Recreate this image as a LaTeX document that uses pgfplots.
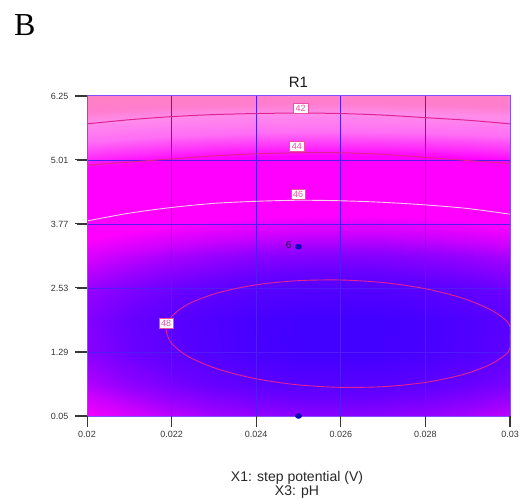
\documentclass[border=0pt]{standalone}
\usepackage{pgfplots}
\pgfplotsset{compat=1.18}
\usepackage{fontspec}
\setmainfont{Liberation Sans}
\newfontfamily\timesfont{Liberation Serif}
\definecolor{gridc}{RGB}{85,25,245}
\definecolor{framec}{RGB}{130,80,250}
\definecolor{tickc}{RGB}{55,55,55}
\definecolor{cpink}{RGB}{225,35,145}
\definecolor{cwhite}{RGB}{255,200,240}
\definecolor{lblc}{RGB}{235,80,165}
\definecolor{dotc}{RGB}{15,10,185}
\pgfplotsset{colormap={de}{[1pt]
 rgb255(0pt)=(255,130,195) rgb255(10pt)=(255,125,205) rgb255(16pt)=(255,140,235)
 rgb255(26pt)=(255,110,245) rgb255(33pt)=(255,50,250) rgb255(38pt)=(255,0,255)
 rgb255(61pt)=(255,0,255) rgb255(66pt)=(205,0,255) rgb255(70pt)=(150,0,255)
 rgb255(74pt)=(105,0,255) rgb255(80pt)=(60,0,255)}}
\tikzset{clbl/.style={draw=lblc, fill=white, text=lblc, line width=0.6pt, inner xsep=2.2pt, inner ysep=1.8pt, font=\fontsize{9}{9}\selectfont}}
\begin{document}
\begin{tikzpicture}[x=1pt,y=1pt]
\path[use as bounding box] (0,0) rectangle (521,498);
\fill[white] (0,0) rectangle (521,498);
\begin{axis}[
 at={(87pt,82pt)}, anchor=south west, scale only axis,
 width=423pt, height=320pt,
 view={0}{90},
 xmin=0.02, xmax=0.03, ymin=0.05, ymax=6.25,
 xtick={0.02,0.022,0.024,0.026,0.028,0.03},
 xticklabels={0.02,0.022,0.024,0.026,0.028,0.03},
 ytick={0.05,1.29,2.53,3.77,5.01,6.25},
 yticklabels={0.05,1.29,2.53,3.77,5.01,6.25},
 ztick=\empty,
 tick align=outside, major tick length=10pt,
 xtick pos=left, ytick pos=left,
 tick style={draw=tickc, line width=0.8pt},
 ticklabel style={font=\fontsize{9}{9}\selectfont, text=tickc},
 xticklabel style={yshift=-2pt},
 yticklabel style={xshift=-5pt},
 axis line style={draw=framec, line width=1pt},
 colormap name=de, point meta min=40.4, point meta max=48.4,
 scaled x ticks=false, scaled y ticks=false,
 clip=false,
]
\addplot3[surf, shader=interp, mesh/cols=11] table {
x y z
0.020 0.05 46.61
0.021 0.05 46.89
0.022 0.05 47.12
0.023 0.05 47.29
0.024 0.05 47.41
0.025 0.05 47.49
0.026 0.05 47.51
0.027 0.05 47.48
0.028 0.05 47.40
0.029 0.05 47.27
0.030 0.05 47.09
0.020 0.67 47.20
0.021 0.67 47.46
0.022 0.67 47.67
0.023 0.67 47.84
0.024 0.67 47.96
0.025 0.67 48.03
0.026 0.67 48.05
0.027 0.67 48.02
0.028 0.67 47.95
0.029 0.67 47.83
0.030 0.67 47.65
0.020 1.29 47.52
0.021 1.29 47.77
0.022 1.29 47.97
0.023 1.29 48.13
0.024 1.29 48.24
0.025 1.29 48.31
0.026 1.29 48.33
0.027 1.29 48.31
0.028 1.29 48.23
0.029 1.29 48.12
0.030 1.29 47.95
0.020 1.91 47.57
0.021 1.91 47.81
0.022 1.91 48.00
0.023 1.91 48.15
0.024 1.91 48.26
0.025 1.91 48.32
0.026 1.91 48.34
0.027 1.91 48.32
0.028 1.91 48.25
0.029 1.91 48.14
0.030 1.91 47.98
0.020 2.53 47.37
0.021 2.53 47.59
0.022 2.53 47.77
0.023 2.53 47.91
0.024 2.53 48.01
0.025 2.53 48.07
0.026 2.53 48.09
0.027 2.53 48.07
0.028 2.53 48.00
0.029 2.53 47.90
0.030 2.53 47.75
0.020 3.15 46.88
0.021 3.15 47.09
0.022 3.15 47.26
0.023 3.15 47.39
0.024 3.15 47.49
0.025 3.15 47.54
0.026 3.15 47.56
0.027 3.15 47.54
0.028 3.15 47.48
0.029 3.15 47.38
0.030 3.15 47.24
0.020 3.77 46.13
0.021 3.77 46.33
0.022 3.77 46.49
0.023 3.77 46.61
0.024 3.77 46.70
0.025 3.77 46.75
0.026 3.77 46.77
0.027 3.77 46.75
0.028 3.77 46.69
0.029 3.77 46.60
0.030 3.77 46.47
0.020 4.08 45.66
0.021 4.08 45.85
0.022 4.08 46.01
0.023 4.08 46.13
0.024 4.08 46.21
0.025 4.08 46.26
0.026 4.08 46.28
0.027 4.08 46.26
0.028 4.08 46.21
0.029 4.08 46.12
0.030 4.08 45.99
0.020 4.39 45.12
0.021 4.39 45.31
0.022 4.39 45.46
0.023 4.39 45.57
0.024 4.39 45.66
0.025 4.39 45.71
0.026 4.39 45.72
0.027 4.39 45.70
0.028 4.39 45.65
0.029 4.39 45.56
0.030 4.39 45.44
0.020 4.70 44.51
0.021 4.70 44.69
0.022 4.70 44.84
0.023 4.70 44.95
0.024 4.70 45.03
0.025 4.70 45.08
0.026 4.70 45.09
0.027 4.70 45.07
0.028 4.70 45.02
0.029 4.70 44.94
0.030 4.70 44.82
0.020 5.01 43.85
0.021 5.01 44.02
0.022 5.01 44.16
0.023 5.01 44.26
0.024 5.01 44.34
0.025 5.01 44.39
0.026 5.01 44.40
0.027 5.01 44.38
0.028 5.01 44.33
0.029 5.01 44.25
0.030 5.01 44.14
0.020 5.32 43.11
0.021 5.32 43.27
0.022 5.32 43.41
0.023 5.32 43.51
0.024 5.32 43.58
0.025 5.32 43.63
0.026 5.32 43.64
0.027 5.32 43.62
0.028 5.32 43.58
0.029 5.32 43.50
0.030 5.32 43.39
0.020 5.63 42.30
0.021 5.63 42.46
0.022 5.63 42.58
0.023 5.63 42.68
0.024 5.63 42.76
0.025 5.63 42.80
0.026 5.63 42.81
0.027 5.63 42.79
0.028 5.63 42.75
0.029 5.63 42.68
0.030 5.63 42.57
0.020 5.94 41.43
0.021 5.94 41.58
0.022 5.94 41.70
0.023 5.94 41.80
0.024 5.94 41.87
0.025 5.94 41.91
0.026 5.94 41.92
0.027 5.94 41.91
0.028 5.94 41.86
0.029 5.94 41.79
0.030 5.94 41.69
0.020 6.25 40.49
0.021 6.25 40.64
0.022 6.25 40.75
0.023 6.25 40.84
0.024 6.25 40.91
0.025 6.25 40.95
0.026 6.25 40.96
0.027 6.25 40.95
0.028 6.25 40.90
0.029 6.25 40.84
0.030 6.25 40.74
};
% grid lines
\addplot3[gridc, line width=0.8pt, no marks] coordinates {(0.022,0.05,0) (0.022,6.25,0)};
\addplot3[gridc, line width=0.8pt, no marks] coordinates {(0.024,0.05,0) (0.024,6.25,0)};
\addplot3[gridc, line width=0.8pt, no marks] coordinates {(0.026,0.05,0) (0.026,6.25,0)};
\addplot3[gridc, line width=0.8pt, no marks] coordinates {(0.028,0.05,0) (0.028,6.25,0)};
\addplot3[gridc, line width=0.8pt, no marks] coordinates {(0.02,1.29,0) (0.03,1.29,0)};
\addplot3[gridc, line width=0.8pt, no marks] coordinates {(0.02,2.53,0) (0.03,2.53,0)};
\addplot3[gridc, line width=0.8pt, no marks] coordinates {(0.02,3.77,0) (0.03,3.77,0)};
\addplot3[gridc, line width=0.8pt, no marks] coordinates {(0.02,5.01,0) (0.03,5.01,0)};
% contour lines
\addplot3[cpink, line width=1pt, smooth, no marks] coordinates {
(0.020,5.71,0) (0.021,5.79,0) (0.022,5.85,0) (0.023,5.89,0) (0.024,5.91,0) (0.025,5.92,0)
(0.026,5.91,0) (0.027,5.88,0) (0.028,5.83,0) (0.029,5.78,0) (0.030,5.71,0)};
\addplot3[cpink, line width=1pt, smooth, no marks] coordinates {
(0.020,4.91,0) (0.021,4.97,0) (0.022,5.03,0) (0.023,5.09,0) (0.024,5.13,0) (0.025,5.15,0)
(0.026,5.15,0) (0.027,5.12,0) (0.028,5.06,0) (0.029,5.00,0) (0.030,4.94,0)};
\addplot3[cwhite, line width=0.9pt, smooth, no marks] coordinates {
(0.020,3.83,0) (0.021,3.98,0) (0.022,4.09,0) (0.023,4.17,0) (0.024,4.21,0) (0.025,4.23,0)
(0.026,4.22,0) (0.027,4.19,0) (0.028,4.14,0) (0.029,4.07,0) (0.030,3.96,0)};
\addplot3[cpink, line width=0.9pt, smooth, no marks] coordinates {
(0.03000,1.570,0) (0.02997,1.842,0) (0.02956,2.100,0) (0.02890,2.327,0) (0.02805,2.508,0)
(0.02706,2.631,0) (0.02599,2.685,0) (0.02492,2.669,0) (0.02393,2.583,0) (0.02308,2.433,0)
(0.02242,2.230,0) (0.02201,1.986,0) (0.02187,1.720,0) (0.02201,1.448,0) (0.02242,1.190,0)
(0.02308,0.963,0) (0.02393,0.782,0) (0.02492,0.659,0) (0.02599,0.605,0) (0.02706,0.621,0)
(0.02805,0.707,0) (0.02890,0.857,0) (0.02956,1.060,0) (0.02997,1.304,0) (0.03000,1.570,0)};
% frame
\addplot3[framec, line width=1pt, no marks] coordinates {(0.02,0.05,0) (0.03,0.05,0) (0.03,6.25,0) (0.02,6.25,0) (0.02,0.05,0)};
% contour labels
\node[clbl] at (axis cs:0.02505,6.01,0) {42};
\node[clbl] at (axis cs:0.02496,5.28,0) {44};
\node[clbl] at (axis cs:0.02499,4.35,0) {46};
\node[clbl] at (axis cs:0.02187,1.85,0) {48};
% design points
\addplot3[only marks, mark=*, mark size=2.5pt, color=dotc, mark options={xscale=1.3}] coordinates {(0.025,3.33,0) (0.025,0.05,0)};
\node[anchor=east, font=\fontsize{10}{10}\selectfont, text={rgb,255:red,35;green,25;blue,80}, inner sep=0pt] at (axis cs:0.02484,3.36,0) {6};
\end{axis}
% tick marks
\fill[tickc] (86.5,82) rectangle (87.6,71.5);
\fill[tickc] (171.1,82) rectangle (172.2,71.5);
\fill[tickc] (255.7,82) rectangle (256.8,71.5);
\fill[tickc] (340.3,82) rectangle (341.4,71.5);
\fill[tickc] (424.9,82) rectangle (426.0,71.5);
\fill[tickc] (509.4,82) rectangle (510.5,71.5);
\fill[tickc] (75,81.5) rectangle (87,82.6);
\fill[tickc] (75,145.5) rectangle (87,146.6);
\fill[tickc] (75,209.5) rectangle (87,210.6);
\fill[tickc] (75,273.5) rectangle (87,274.6);
\fill[tickc] (75,337.5) rectangle (87,338.6);
\fill[tickc] (75,401.4) rectangle (87,402.5);
\node[font=\fontsize{15}{15}\selectfont, text={rgb,255:red,25;green,25;blue,25}] at (298.5,416) {R1};
\node[font=\fontsize{14}{14}\selectfont, text={rgb,255:red,40;green,40;blue,40}] at (297,20) {X1: step potential (V)};
\node[font=\fontsize{14}{14}\selectfont, text={rgb,255:red,40;green,40;blue,40}] at (297,6) {X3: pH};
\node[anchor=base west, font=\timesfont\fontsize{32}{32}\selectfont, inner sep=0pt] at (14,462) {B};
\end{tikzpicture}
\end{document}
